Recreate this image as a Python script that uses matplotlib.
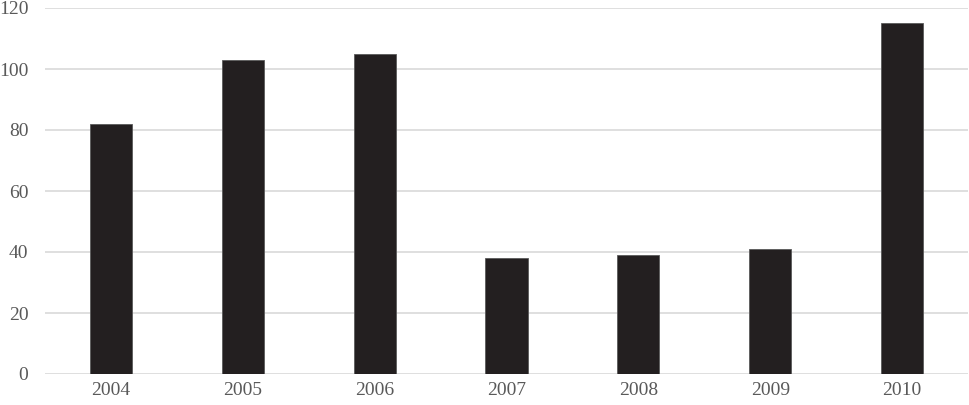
import matplotlib
matplotlib.use('Agg')
import matplotlib.pyplot as plt

years = ['2004', '2005', '2006', '2007', '2008', '2009', '2010']
values = [82, 103, 105, 38, 39, 41, 115]
y_ticks = [0, 20, 40, 60, 80, 100, 120]

plt.rcParams['font.family'] = ['Liberation Serif', 'DejaVu Serif']

fig = plt.figure(figsize=(9.69, 4.05), dpi=100)
ax = fig.add_axes([45 / 969, 31 / 405, 923 / 969, 366 / 405])

x = range(len(years))
ax.bar(x, values, width=0.32, color='#231f20', edgecolor='#5a5a5a', linewidth=0.6, zorder=3)

ax.set_xlim(-0.5, len(years) - 0.5)
ax.set_ylim(0, 120)
ax.set_yticks(y_ticks)
ax.set_xticks(list(x))
ax.set_xticklabels(years)

# light horizontal grid, no frame
ax.yaxis.grid(True, color='#d9d9d9', linewidth=1.2, zorder=0)
for s in ax.spines.values():
    s.set_visible(False)
ax.tick_params(axis='both', length=0, labelsize=14, colors='#595959')
ax.tick_params(axis='y', pad=12)
ax.tick_params(axis='x', pad=6)

fig.savefig('out.png', dpi=100)
